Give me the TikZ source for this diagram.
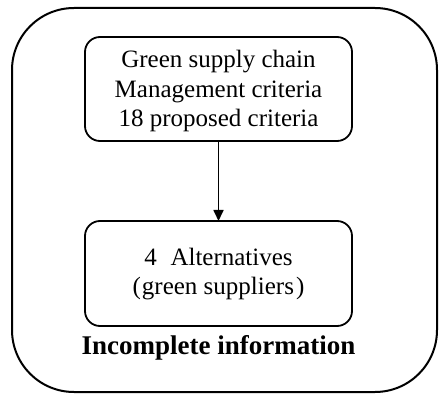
\documentclass[tikz,border=0pt]{standalone}
\usepackage{fontspec}
\setmainfont{Liberation Serif}
\usetikzlibrary{arrows.meta}
\begin{document}
\begin{tikzpicture}[x=1pt,y=1pt,
  outerbox/.style={draw=black,line width=2pt,rounded corners=62pt},
  stagebox/.style={draw=black,line width=1.8pt,rounded corners=15pt},
  txt/.style={align=center,font=\fontsize{25}{29.5}\selectfont,inner sep=0pt}]
\useasboundingbox (0,0) rectangle (439,394);
\draw[outerbox] (12,2) rectangle (437,386);
\draw[stagebox] (85,253) rectangle (352,357);
\draw[stagebox] (85,68) rectangle (352,173);
\node[txt] (top) at (218.5,303) {Green supply chain\\Management criteria\\18 proposed criteria};
\node[txt] (bot) at (218.5,120) {4\hspace{0.55em}Alternatives\\(\kern1pt green suppliers\kern2pt)};
\coordinate (a1) at (218.5,253);
\coordinate (a2) at (218.5,173);
\draw[line width=1.7pt,-{Triangle[length=11pt,width=10pt]}] (a1) -- (a2);
\node[inner sep=0pt,font=\fontsize{27}{32}\selectfont\bfseries] (info) at (218.5,46) {Incomplete information};
\end{tikzpicture}
\end{document}
